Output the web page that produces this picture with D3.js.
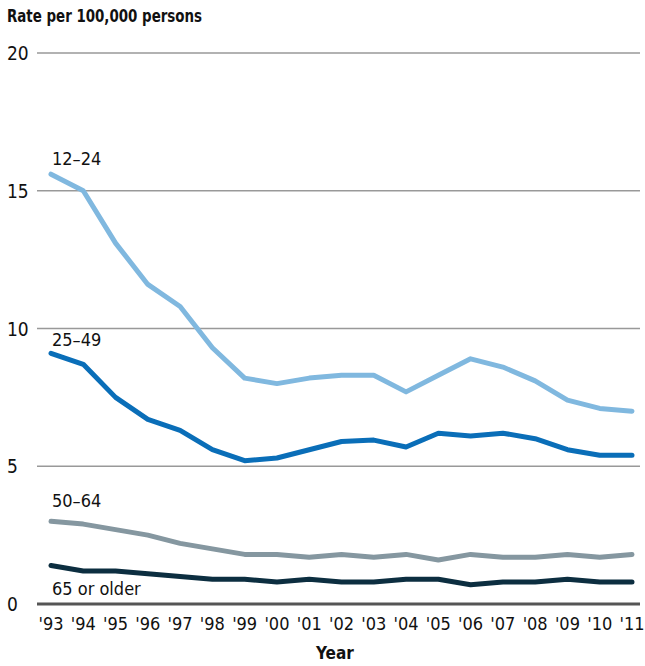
<!DOCTYPE html>
<html>
<head>
<meta charset="utf-8">
<script src="https://cdn.jsdelivr.net/npm/d3@7"></script>
<style>
  body { margin: 0; background: #fff; }
  text { font-family: "Liberation Sans Narrow", "DejaVu Sans Condensed", "Roboto Condensed", sans-serif; font-stretch: condensed; fill: #111; }
</style>
</head>
<body>
<div id="chart"></div>
<script>
var years = ["'93","'94","'95","'96","'97","'98","'99","'00","'01","'02","'03","'04","'05","'06","'07","'08","'09","'10","'11"];
var age12to24 = [15.6, 15.0, 13.1, 11.6, 10.8, 9.3, 8.2, 8.0, 8.2, 8.3, 8.3, 7.7, 8.3, 8.9, 8.6, 8.1, 7.4, 7.1, 7.0];
var age25to49 = [9.1, 8.7, 7.5, 6.7, 6.3, 5.6, 5.2, 5.3, 5.6, 5.9, 5.95, 5.7, 6.2, 6.1, 6.2, 6.0, 5.6, 5.4, 5.4];
var age50to64 = [3.0, 2.9, 2.7, 2.5, 2.2, 2.0, 1.8, 1.8, 1.7, 1.8, 1.7, 1.8, 1.6, 1.8, 1.7, 1.7, 1.8, 1.7, 1.8];
var age65up = [1.4, 1.2, 1.2, 1.1, 1.0, 0.9, 0.9, 0.8, 0.9, 0.8, 0.8, 0.9, 0.9, 0.7, 0.8, 0.8, 0.9, 0.8, 0.8];
var seriesNames = ["12\u201324", "25\u201349", "50\u201364", "65 or older"];
var yTicks = [0, 5, 10, 15, 20];

var width = 645, height = 666;

var series = [
  { name: seriesNames[0], values: age12to24, color: "#80b8df", labelDy: -9 },
  { name: seriesNames[1], values: age25to49, color: "#0a6eb8", labelDy: -7 },
  { name: seriesNames[2], values: age50to64, color: "#8597a0", labelDy: -14 },
  { name: seriesNames[3], values: age65up, color: "#0c2e40", labelDy: 30 }
];

var svg = d3.select("#chart")
  .append("svg")
  .attr("width", width)
  .attr("height", height);

var x = d3.scalePoint().domain(years).range([51, 632]);
var y = d3.scaleLinear().domain([0, 20]).range([604, 53]);

// gridlines
svg.selectAll(".grid")
  .data(yTicks)
  .enter().append("line")
  .attr("x1", 37)
  .attr("x2", 640)
  .attr("y1", function (d) { return y(d); })
  .attr("y2", function (d) { return y(d); })
  .attr("stroke", function (d) { return d === 0 ? "#555" : "#999"; })
  .attr("stroke-width", function (d) { return d === 0 ? 3 : 1.5; });

svg.selectAll(".ylab")
  .data(yTicks)
  .enter().append("text")
  .attr("x", 7)
  .attr("y", function (d) { return y(d) + 7; })
  .attr("font-size", 19)
  .text(function (d) { return d; });

svg.append("text")
  .attr("x", 7)
  .attr("y", 22)
  .attr("font-size", 18)
  .attr("font-weight", "bold")
  .attr("textLength", 195)
  .attr("lengthAdjust", "spacingAndGlyphs")
  .text("Rate per 100,000 persons");

svg.selectAll(".xlab")
  .data(years)
  .enter().append("text")
  .attr("x", function (d) { return x(d); })
  .attr("y", 630)
  .attr("text-anchor", "middle")
  .attr("font-size", 18)
  .text(function (d) { return d; });

svg.append("text")
  .attr("x", 335)
  .attr("y", 659)
  .attr("text-anchor", "middle")
  .attr("font-size", 17)
  .attr("font-weight", "bold")
  .text("Year");

var line = d3.line()
  .x(function (d, i) { return x(years[i]); })
  .y(function (d) { return y(d); });

svg.selectAll(".series")
  .data(series)
  .enter().append("path")
  .attr("d", function (d) { return line(d.values); })
  .attr("fill", "none")
  .attr("stroke", function (d) { return d.color; })
  .attr("stroke-width", 5)
  .attr("stroke-linecap", "round")
  .attr("stroke-linejoin", "round");

svg.selectAll(".slabel")
  .data(series)
  .enter().append("text")
  .attr("x", function (d) { return x(years[0]) + 1; })
  .attr("y", function (d) { return y(d.values[0]) + d.labelDy; })
  .attr("font-size", 18)
  .text(function (d) { return d.name; });
</script>
</body>
</html>
